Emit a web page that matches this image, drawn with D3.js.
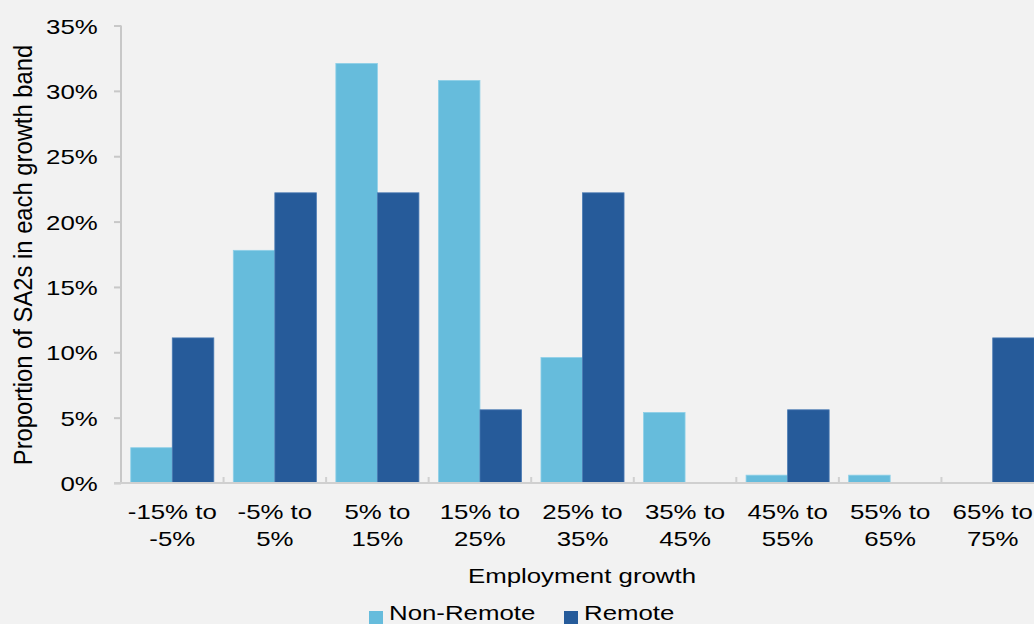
<!DOCTYPE html>
<html>
<head>
<meta charset="utf-8">
<title>Employment growth by SA2</title>
<style>
  body { margin: 0; background: #f2f2f2; }
  svg { display: block; font-family: "Liberation Sans", Arial, sans-serif; }
</style>
</head>
<body>
<script src="https://cdn.jsdelivr.net/npm/d3@7"></script>
<script>
// chart data
var bands = [["-15% to", "-5%"], ["-5% to", "5%"], ["5% to", "15%"], ["15% to", "25%"],
             ["25% to", "35%"], ["35% to", "45%"], ["45% to", "55%"], ["55% to", "65%"], ["65% to", "75%"]];
var seriesNames = ["Non-Remote", "Remote"];
var nonRemote = [0.027, 0.178, 0.321, 0.308, 0.096, 0.054, 0.006, 0.006, 0.0];
var remote    = [0.111, 0.222, 0.222, 0.056, 0.222, 0.0, 0.056, 0.0, 0.111];
var yTicks = [0, 0.05, 0.10, 0.15, 0.20, 0.25, 0.30, 0.35];

var colors = ["#66bcdc", "#265b9a"];
var strokes = ["#8fd0e8", "#4a7ab3"];

var width = 1034, height = 624;
var plotLeft = 121, plotRight = 1044, plotTop = 25.5, plotBottom = 483;
var fs = 21, sx = 1.23;   // the source text is drawn a bit wide

var svg = d3.select("body").append("svg")
  .attr("width", width)
  .attr("height", height);

svg.append("rect").attr("width", width).attr("height", height).attr("fill", "#f2f2f2");

var x = d3.scaleBand()
  .domain(d3.range(bands.length))
  .range([plotLeft, plotRight])
  .paddingInner(0.19)
  .paddingOuter(0.095);

var step = x.step();

var xs = d3.scaleBand()
  .domain([0, 1])
  .range([0, x.bandwidth()]);

var y = d3.scaleLinear().domain([0, 0.35]).range([plotBottom, plotTop]);

// bars
var rows = bands.map(function(b, i) { return [nonRemote[i], remote[i]]; });
var groups = svg.selectAll(".grp").data(rows)
  .enter().append("g")
    .attr("class", "grp")
    .attr("transform", function(d, i) { return "translate(" + x(i) + ",0)"; });

groups.selectAll("rect").data(function(d) { return d.map(function(v, j) { return {v: v, j: j}; }); })
  .enter().filter(function(d) { return d.v > 0; })
  .append("rect")
    .attr("x", function(d) { return xs(d.j); })
    .attr("y", function(d) { return y(d.v); })
    .attr("width", xs.bandwidth())
    .attr("height", function(d) { return plotBottom - y(d.v); })
    .attr("fill", function(d) { return colors[d.j]; })
    .attr("stroke", function(d) { return strokes[d.j]; })
    .attr("stroke-width", 0.8);

// y axis
var yAxis = d3.axisLeft(y)
  .tickValues(yTicks)
  .tickFormat(d3.format(".0%"))
  .tickSize(7)
  .tickPadding(16);

var gy = svg.append("g").attr("transform", "translate(" + plotLeft + ",0)").call(yAxis);
gy.select(".domain").attr("stroke", "#c8c8c8").attr("stroke-width", 2)
  .attr("d", "M0," + plotTop + "V" + plotBottom);
gy.selectAll(".tick line").attr("stroke", "#c8c8c8").attr("stroke-width", 2);
gy.selectAll(".tick text")
  .attr("fill", "#000")
  .attr("x", 0)
  .attr("dy", "0.36em")
  .attr("transform", "translate(-23.3,0) scale(" + sx + ",1)")
  .style("font-size", fs + "px")
  .style("font-family", "'Liberation Sans', Arial, sans-serif");

// x axis line and ticks between bands
svg.append("line")
  .attr("x1", plotLeft - 7).attr("x2", plotRight)
  .attr("y1", plotBottom).attr("y2", plotBottom)
  .attr("stroke", "#d0d0d0").attr("stroke-width", 2);

svg.selectAll(".xtick").data(d3.range(1, bands.length + 1))
  .enter().append("line")
    .attr("x1", function(i) { return plotLeft + i * step; })
    .attr("x2", function(i) { return plotLeft + i * step; })
    .attr("y1", plotBottom).attr("y2", plotBottom - 6)
    .attr("stroke", "#d0d0d0").attr("stroke-width", 2);

// category labels
var lab = svg.selectAll(".xlab").data(bands)
  .enter().append("text")
    .attr("text-anchor", "middle")
    .style("font-size", fs + "px")
    .attr("fill", "#000")
    .attr("transform", function(d, i) {
      return "translate(" + (x(i) + x.bandwidth() / 2) + ",519) scale(" + sx + ",1)";
    });
lab.append("tspan").attr("x", 0).attr("y", 0).text(function(d) { return d[0]; });
lab.append("tspan").attr("x", 0).attr("y", 27.5).text(function(d) { return d[1]; });

// axis titles
svg.append("text")
  .attr("transform", "translate(582,583) scale(" + sx + ",1)")
  .attr("text-anchor", "middle")
  .style("font-size", fs + "px")
  .text("Employment growth");

svg.append("text")
  .attr("transform", "translate(32,255) scale(1.12,1) rotate(-90)")
  .attr("text-anchor", "middle")
  .style("font-size", "23.8px")
  .text("Proportion of SA2s in each growth band");

// legend
var legendX = [369, 564];
var leg = svg.selectAll(".leg").data(seriesNames)
  .enter().append("g")
    .attr("transform", function(d, i) { return "translate(" + legendX[i] + ",611)"; });
leg.append("rect").attr("width", 14).attr("height", 14)
  .attr("fill", function(d, i) { return colors[i]; });
leg.append("text")
  .attr("transform", "translate(20,9) scale(" + sx + ",1)")
  .style("font-size", fs + "px")
  .text(function(d) { return d; });
</script>
</body>
</html>
